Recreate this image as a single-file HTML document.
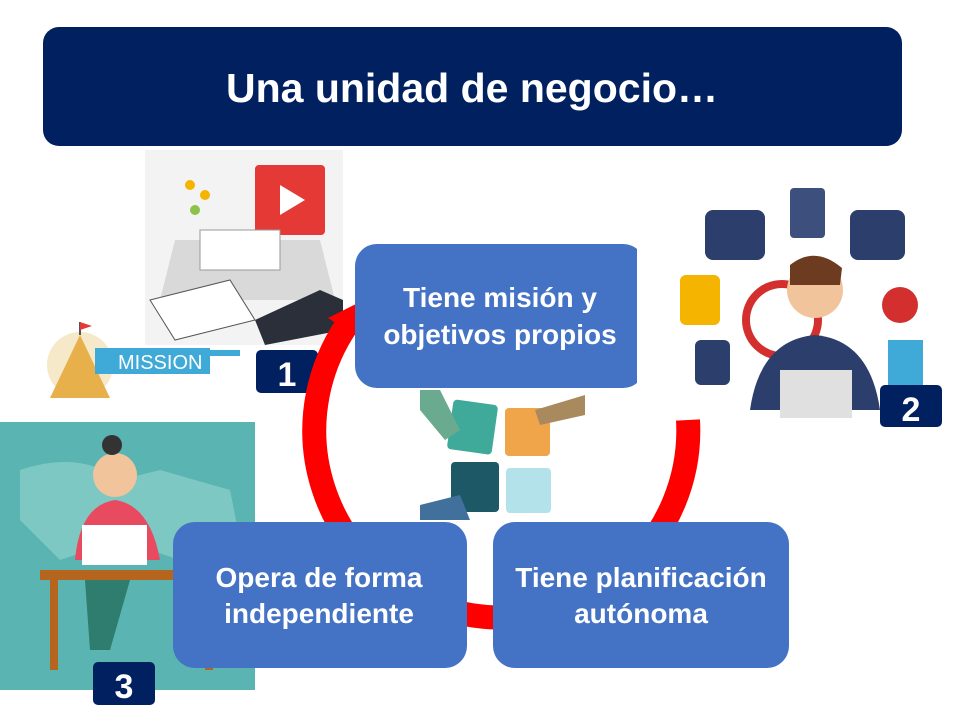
<!DOCTYPE html>
<html><head><meta charset="utf-8"><style>
html,body{margin:0;padding:0;background:#fff;}
body{width:960px;height:720px;position:relative;overflow:hidden;font-family:"Liberation Sans",sans-serif;}
</style></head><body>
<svg width="960" height="720" viewBox="0 0 960 720" xmlns="http://www.w3.org/2000/svg" style="position:absolute;left:0;top:0">
<!-- title -->
<rect x="43" y="27" width="859" height="119" rx="16" fill="#002060"/>
<text x="472" y="102" text-anchor="middle" font-family="Liberation Sans, sans-serif" font-weight="bold" font-size="41" fill="#fff">Una unidad de negocio…</text>

<!-- top-left illustration -->
<rect x="145" y="150" width="198" height="195" fill="#f3f3f3"/>
<rect x="255" y="165" width="70" height="70" fill="#e53935" rx="4"/>
<polygon points="280,185 280,215 305,200" fill="#fff"/>
<polygon points="175,240 320,240 335,300 160,300" fill="#d9d9d9"/>
<rect x="200" y="230" width="80" height="40" fill="#fff" stroke="#999"/>
<polygon points="150,300 230,280 255,320 175,340" fill="#fff" stroke="#555"/>
<polygon points="255,320 320,290 343,300 343,330 265,345" fill="#2b2f3a"/>
<circle cx="190" cy="185" r="5" fill="#f4b400"/><circle cx="205" cy="195" r="5" fill="#f4b400"/><circle cx="195" cy="210" r="5" fill="#8bc34a"/>

<!-- mission -->
<circle cx="80" cy="365" r="33" fill="#f5e9c9"/>
<polygon points="50,398 80,335 110,398" fill="#e8b04a"/>
<line x1="80" y1="335" x2="80" y2="322" stroke="#555" stroke-width="2"/>
<polygon points="80,322 92,326 80,330" fill="#e53935"/>
<rect x="95" y="348" width="115" height="26" fill="#3fa9d8"/>
<text x="118" y="369" font-family="Liberation Sans, sans-serif" font-size="20" fill="#fff">MISSION</text>
<rect x="210" y="350" width="30" height="6" fill="#3fa9d8"/>
<rect x="256" y="350" width="62" height="43" rx="5" fill="#002060"/>
<text x="287" y="386" text-anchor="middle" font-family="Liberation Sans, sans-serif" font-weight="bold" font-size="34" fill="#fff">1</text>

<!-- right illustration -->
<circle cx="782" cy="320" r="40" fill="#d32f2f"/>
<circle cx="782" cy="320" r="32" fill="#fff"/>
<circle cx="815" cy="290" r="28" fill="#f2c49b"/>
<path d="M790 265 Q815 245 842 268 L840 285 L790 285Z" fill="#6d3b1f"/>
<path d="M750 410 Q760 340 815 335 Q870 340 880 410Z" fill="#2c3e6b"/>
<rect x="780" y="370" width="72" height="48" fill="#e0e0e0"/>
<rect x="705" y="210" width="60" height="50" fill="#2c3e6b" rx="8"/>
<rect x="790" y="188" width="35" height="50" fill="#3d4f7d" rx="4"/>
<rect x="850" y="210" width="55" height="50" fill="#2c3e6b" rx="8"/>
<rect x="680" y="275" width="40" height="50" fill="#f4b400" rx="6"/>
<rect x="695" y="340" width="35" height="45" fill="#2c3e6b" rx="6"/>
<circle cx="900" cy="305" r="18" fill="#d32f2f"/>
<rect x="888" y="340" width="35" height="45" fill="#3fa9d8"/>
<rect x="880" y="385" width="62" height="42" rx="5" fill="#002060"/>
<text x="911" y="421" text-anchor="middle" font-family="Liberation Sans, sans-serif" font-weight="bold" font-size="34" fill="#fff">2</text>

<!-- bottom-left teal -->
<rect x="0" y="422" width="255" height="268" fill="#5ab5b2"/>
<path d="M20 470 Q80 450 120 480 L160 470 L230 490 L240 540 L180 560 L120 540 L60 560 L20 520Z" fill="#7ec8c4"/>
<circle cx="115" cy="475" r="22" fill="#f2c49b"/>
<circle cx="112" cy="445" r="10" fill="#333"/>
<path d="M75 560 Q80 505 115 500 Q150 505 160 560Z" fill="#e84a5f"/>
<rect x="82" y="525" width="65" height="40" fill="#fff"/>
<rect x="40" y="570" width="185" height="10" fill="#b5651d"/>
<rect x="50" y="580" width="8" height="90" fill="#b5651d"/>
<rect x="205" y="580" width="8" height="90" fill="#b5651d"/>
<path d="M85 580 L130 580 L110 650 L90 650Z" fill="#2e7d6e"/>
<rect x="93" y="662" width="62" height="43" rx="5" fill="#002060"/>
<text x="124" y="698" text-anchor="middle" font-family="Liberation Sans, sans-serif" font-weight="bold" font-size="34" fill="#fff">3</text>

<!-- red cycle (partial arc) -->
<path d="M 688 420 A 187 187 0 1 1 352 318" fill="none" stroke="#ff0000" stroke-width="24"/>
<polygon points="364,300 366,342 328,318" fill="#ff0000"/>

<!-- puzzle -->
<rect x="420" y="390" width="170" height="130" fill="#fff"/>
<rect x="450" y="402" width="45" height="50" rx="4" fill="#3fa99a" transform="rotate(8 472 427)"/>
<rect x="505" y="408" width="45" height="48" rx="4" fill="#f0a54a"/>
<rect x="451" y="462" width="48" height="50" rx="4" fill="#1d5866"/>
<rect x="506" y="468" width="45" height="45" rx="4" fill="#b3e2ea"/>
<polygon points="420,390 440,390 460,430 445,440 420,410" fill="#6aaa8e"/>
<polygon points="585,395 585,415 540,425 535,410" fill="#a88a5e"/>
<polygon points="420,505 460,495 470,520 420,520" fill="#41709c"/>

<!-- boxes -->
<rect x="355" y="244" width="290" height="144" rx="22" fill="#4472c4"/>
<rect x="637" y="240" width="20" height="152" fill="#fff"/>
<text x="500" y="307" text-anchor="middle" font-family="Liberation Sans, sans-serif" font-weight="bold" font-size="28" fill="#fff">Tiene misión y</text>
<text x="500" y="344" text-anchor="middle" font-family="Liberation Sans, sans-serif" font-weight="bold" font-size="28" fill="#fff">objetivos propios</text>

<rect x="173" y="522" width="294" height="146" rx="22" fill="#4472c4"/>
<text x="319" y="587" text-anchor="middle" font-family="Liberation Sans, sans-serif" font-weight="bold" font-size="28" fill="#fff">Opera de forma</text>
<text x="319" y="623" text-anchor="middle" font-family="Liberation Sans, sans-serif" font-weight="bold" font-size="28" fill="#fff">independiente</text>

<rect x="493" y="522" width="296" height="146" rx="22" fill="#4472c4"/>
<text x="641" y="587" text-anchor="middle" font-family="Liberation Sans, sans-serif" font-weight="bold" font-size="28" fill="#fff">Tiene planificación</text>
<text x="641" y="623" text-anchor="middle" font-family="Liberation Sans, sans-serif" font-weight="bold" font-size="28" fill="#fff">autónoma</text>
</svg>
</body></html>
